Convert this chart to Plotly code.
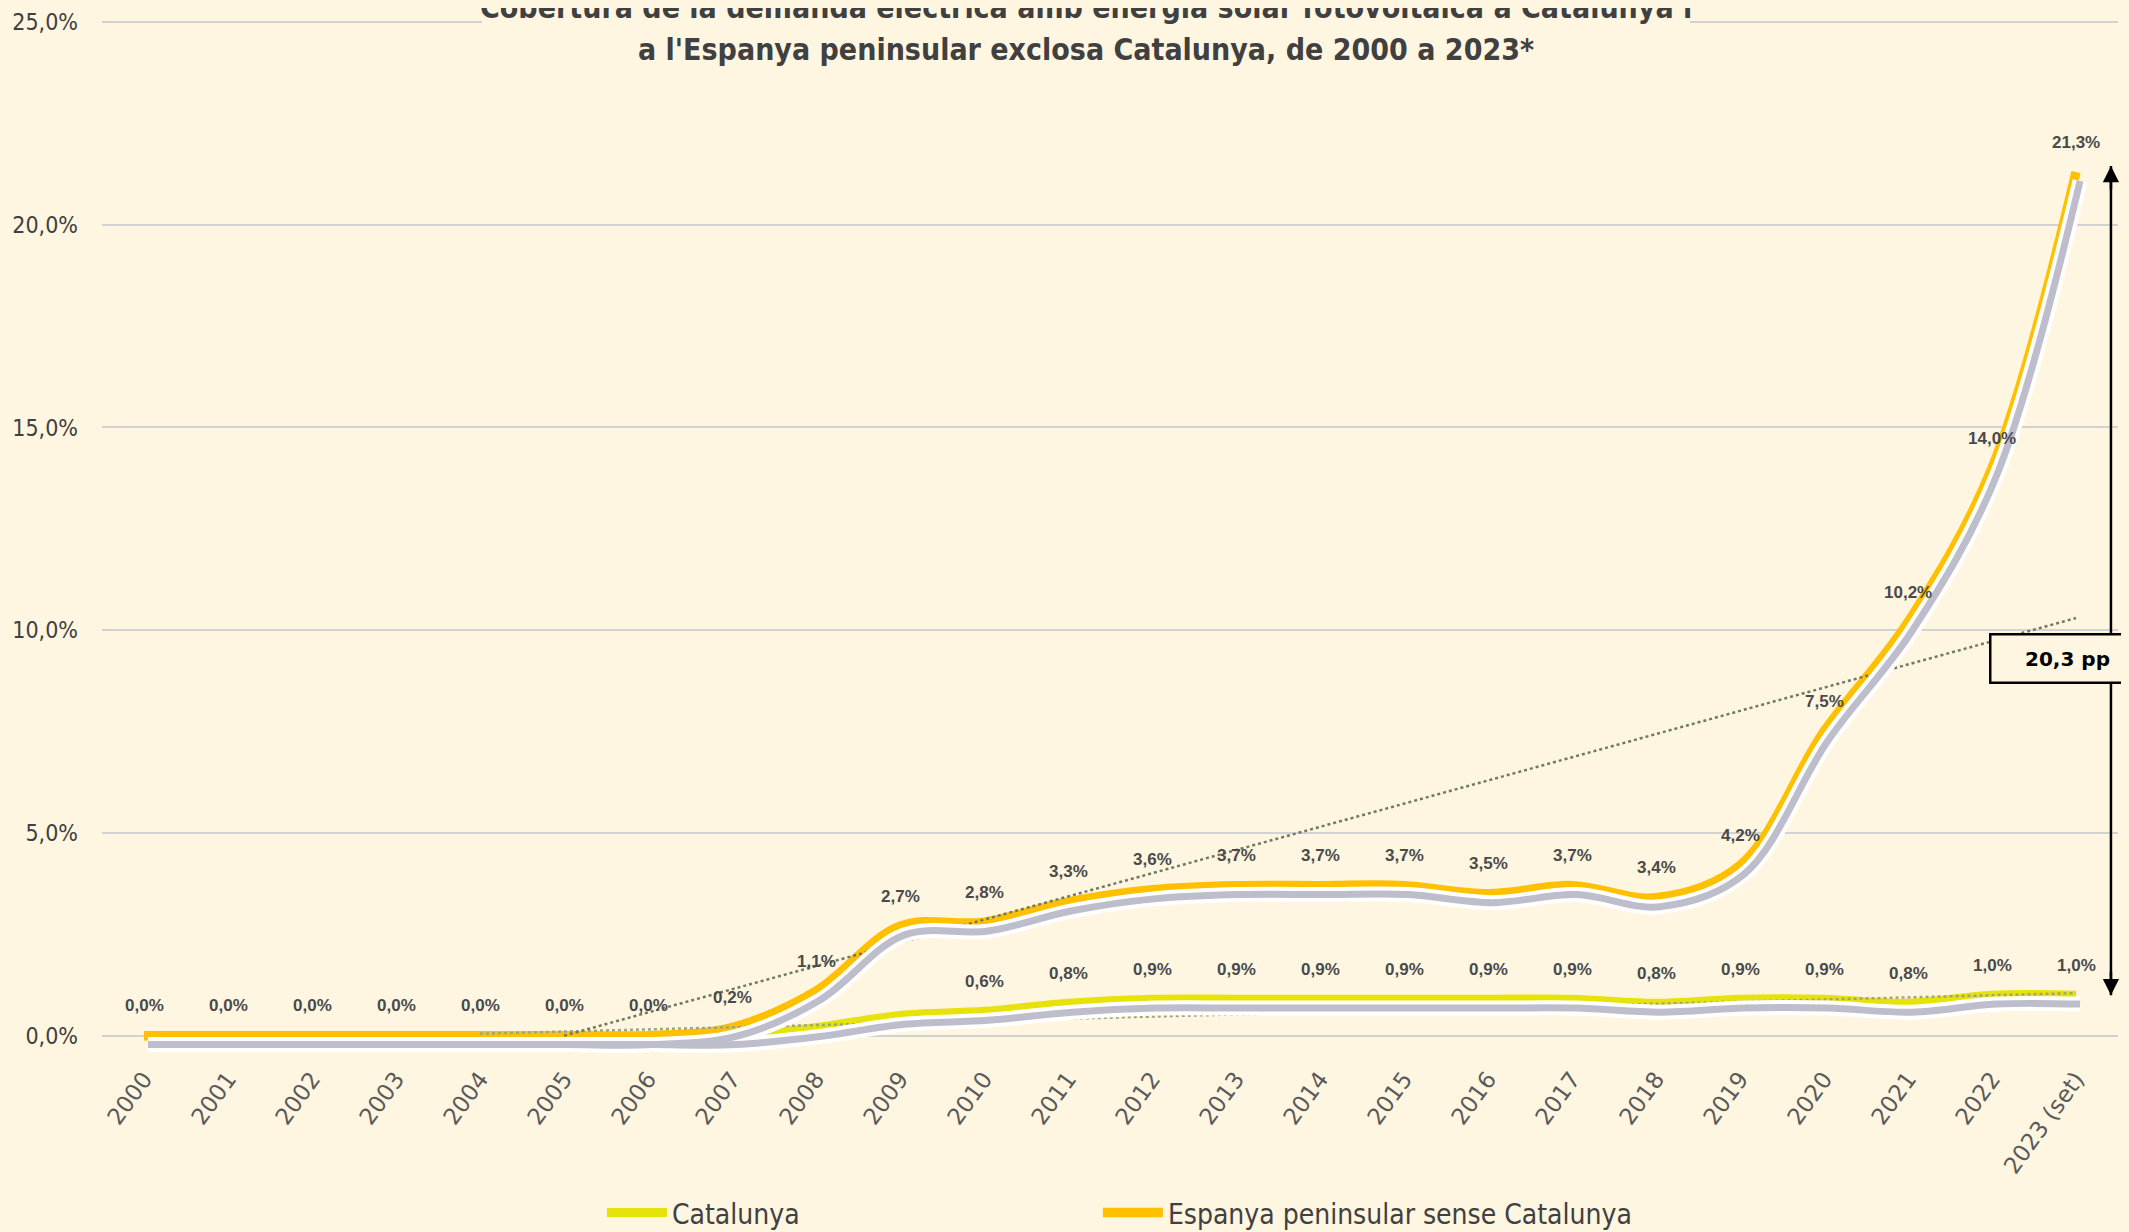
import plotly.graph_objects as go

# Data (%)
years = ["2000", "2001", "2002", "2003", "2004", "2005", "2006", "2007", "2008", "2009",
         "2010", "2011", "2012", "2013", "2014", "2015", "2016", "2017", "2018", "2019",
         "2020", "2021", "2022", "2023 (set)"]
catalunya = [0.0, 0.0, 0.0, 0.0, 0.0, 0.0, 0.0, 0.0, 0.2, 0.5,
             0.6, 0.8, 0.9, 0.9, 0.9, 0.9, 0.9, 0.9, 0.8, 0.9,
             0.9, 0.8, 1.0, 1.0]
espanya = [0.0, 0.0, 0.0, 0.0, 0.0, 0.0, 0.0, 0.2, 1.1, 2.7,
           2.8, 3.3, 3.6, 3.7, 3.7, 3.7, 3.5, 3.7, 3.4, 4.2,
           7.5, 10.2, 14.0, 21.3]
# which points carry a data label
cat_labelled = [False] * 10 + [True] * 14
esp_labelled = [True] * 24

# dotted trend lines (start / end)
trend_esp_x = ["2005", "2023 (set)"]
trend_esp_y = [0.0, 10.3]
trend_cat_x = ["2004", "2023 (set)"]
trend_cat_y = [0.05, 1.05]

y_ticks = [0, 5, 10, 15, 20, 25]
y_ticktext = ["0,0%", "5,0%", "10,0%", "15,0%", "20,0%", "25,0%"]

gap_top, gap_bottom = 21.45, 1.0
gap_text = "20,3 pp"

title_line1 = "Cobertura de la demanda elèctrica amb energia solar fotovoltaica a Catalunya i"
title_line2 = "a l'Espanya peninsular exclosa Catalunya, de 2000 a 2023*"

bg = "#FEF6E0"
grey_txt = "#404040"
narrow = "Liberation Sans Narrow, Arial Narrow, DejaVu Sans Condensed, sans-serif"
yellow = "#E6E20A"
orange = "#FFC000"

fig = go.Figure()

# soft shadow under the lines, drawn on shifted overlay axes
for vals in (espanya, catalunya):
    fig.add_trace(go.Scatter(x=years, y=vals, mode="lines", line=dict(color="white", width=15, shape="spline"),
                             xaxis="x2", yaxis="y2", showlegend=False, hoverinfo="skip"))
for vals in (espanya, catalunya):
    fig.add_trace(go.Scatter(x=years, y=vals, mode="lines", line=dict(color="#BDBDCC", width=7, shape="spline"),
                             xaxis="x2", yaxis="y2", showlegend=False, hoverinfo="skip"))

fig.add_trace(go.Scatter(x=years, y=catalunya, mode="lines", name="Catalunya", legend="legend",
                         line=dict(color=yellow, width=9, shape="spline")))
fig.add_trace(go.Scatter(x=years, y=espanya, mode="lines", name="Espanya peninsular sense Catalunya",
                         legend="legend2", line=dict(color=orange, width=9.5, shape="spline")))

fig.add_trace(go.Scatter(x=trend_cat_x, y=trend_cat_y, mode="lines", showlegend=False, hoverinfo="skip",
                         line=dict(color="#9CA77E", width=2.5, dash="dot")))
fig.add_trace(go.Scatter(x=trend_esp_x, y=trend_esp_y, mode="lines", showlegend=False, hoverinfo="skip",
                         line=dict(color="#6F7A63", width=2.5, dash="dot")))

# data labels (x given as category index, since the year strings look numeric)
def fmt(v):
    return f"{v:.1f}".replace(".", ",") + "%"

for vals, flags in ((espanya, esp_labelled), (catalunya, cat_labelled)):
    for i, (v, f) in enumerate(zip(vals, flags)):
        if f:
            fig.add_annotation(x=i, y=v, text="<b>" + fmt(v) + "</b>", showarrow=False, yshift=30,
                               xanchor="center", yanchor="middle",
                               font=dict(family="Liberation Sans, Arial, sans-serif", size=17, color="#4A4A4A"))

# cream patch that interrupts the top gridline behind the title
fig.add_shape(type="rect", xref="paper", yref="paper", x0=0.1885, x1=0.7877, y0=0.975, y1=1.02,
              fillcolor=bg, line_width=0, layer="above")
fig.add_annotation(xref="paper", yref="paper", x=0.488, y=1.0125, xanchor="center", yanchor="middle",
                   text="<b>" + title_line1 + "</b>", showarrow=False,
                   font=dict(family=narrow, size=30, color=grey_txt))
fig.add_annotation(xref="paper", yref="paper", x=0.488, y=0.9721, xanchor="center", yanchor="middle",
                   text="<b>" + title_line2 + "</b>", showarrow=False,
                   font=dict(family=narrow, size=30, color=grey_txt))

# double arrow + gap box
arrow_x = 0.9965
fig.add_shape(type="line", xref="paper", yref="y", x0=arrow_x, x1=arrow_x, y0=gap_bottom, y1=gap_top,
              line=dict(color="black", width=2.5))
fig.add_annotation(xref="paper", yref="y", x=arrow_x, y=gap_top, ax=0, ay=25, text="", showarrow=True,
                   arrowhead=2, arrowsize=1.3, arrowwidth=2.5, arrowcolor="black")
fig.add_annotation(xref="paper", yref="y", x=arrow_x, y=gap_bottom, ax=0, ay=-25, text="", showarrow=True,
                   arrowhead=2, arrowsize=1.3, arrowwidth=2.5, arrowcolor="black")
fig.add_annotation(xref="paper", yref="y", x=0.975, y=9.3, xanchor="center", yanchor="middle",
                   text="<b>" + gap_text + "</b>", showarrow=False,
                   bgcolor=bg, bordercolor="black", borderwidth=2.5, width=150, height=44,
                   font=dict(family="DejaVu Sans, sans-serif", size=20, color="black"))

legend_style = dict(orientation="h", xanchor="left", y=-0.147, yanchor="middle", itemwidth=60,
                    font=dict(family=narrow, size=28, color=grey_txt), bgcolor="rgba(0,0,0,0)")

# margins are 8 px smaller at top/left because the page body adds an 8 px offset
fig.update_layout(
    width=2129, height=1232,
    paper_bgcolor=bg, plot_bgcolor=bg,
    margin=dict(l=94, r=19, t=12, b=180, autoexpand=False),
    showlegend=True,
    legend=dict(x=0.248, **legend_style),
    legend2=dict(x=0.494, **legend_style),
    xaxis=dict(type="category", range=[-0.5, 23.5], showgrid=False, showline=False, zeroline=False,
               automargin=False, tickangle=-54, ticks="",
               tickfont=dict(family="DejaVu Sans, sans-serif", size=23, color="#5A5A5A")),
    yaxis=dict(range=[-0.6, 25.05], tickvals=y_ticks, ticktext=y_ticktext, automargin=False,
               showgrid=True, gridcolor="#D2D2D2", gridwidth=2, zeroline=False, showline=False,
               ticklabelstandoff=23, tickfont=dict(family=narrow, size=23, color=grey_txt)),
    xaxis2=dict(type="category", range=[-0.548, 23.452], overlaying="x", visible=False),
    yaxis2=dict(range=[-0.38, 25.27], overlaying="y", visible=False),
)

# paint the page margin in the same cream as the chart
fig.write_html("out.html", post_script="document.body.style.background='" + bg + "';")
